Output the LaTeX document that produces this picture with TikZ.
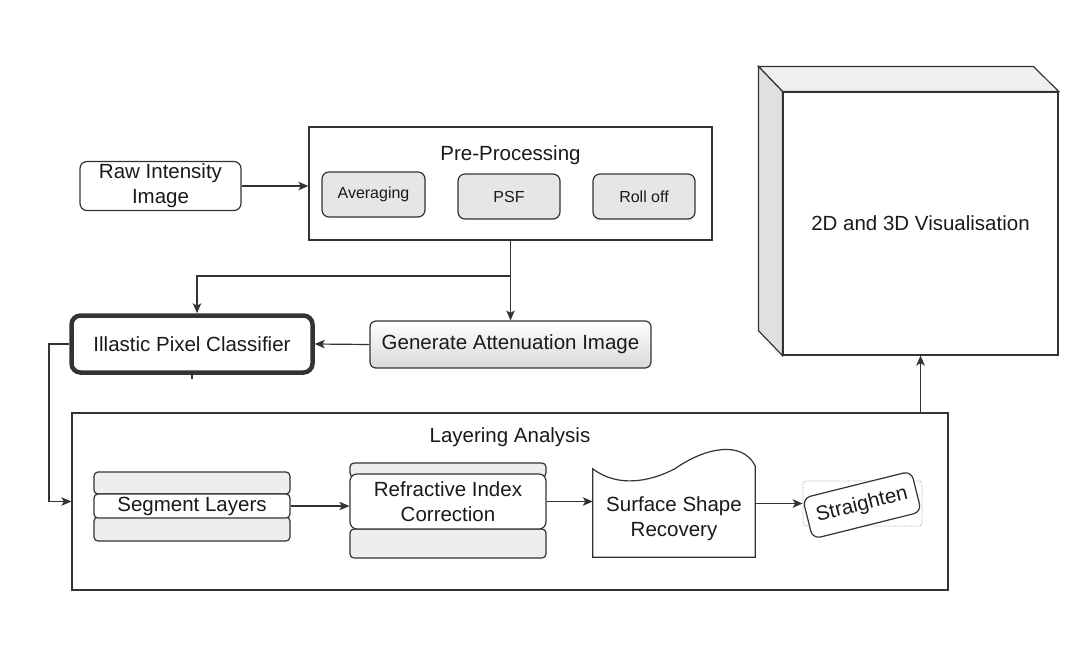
\documentclass[tikz,border=0pt]{standalone}
\usepackage{fontspec}
\setmainfont{Liberation Sans}
\usetikzlibrary{arrows.meta,calc}

\definecolor{edge}{HTML}{333333}
\definecolor{ink}{HTML}{1A1A1A}
\definecolor{panel}{HTML}{E6E6E6}
\definecolor{layer}{HTML}{EEEEEE}

\tikzset{
  lbl/.style={font=\fontsize{20.5}{25}\selectfont, text=ink, align=center, inner sep=0pt},
  small/.style={font=\fontsize{16}{19}\selectfont},
  box/.style={lbl, draw=edge, line width=1.2pt, rounded corners=7pt, fill=white},
  graybox/.style={box, fill=panel},
  layerbox/.style={box, fill=layer, rounded corners=4pt},
  frame/.style={lbl, draw=edge, line width=1.2pt, fill=white},
  link/.style={draw=edge, line width=1.2pt, -{Stealth[length=10pt,width=8.5pt,inset=2.5pt]}},
}

\begin{document}
\begin{tikzpicture}[x=1pt,y=-1pt]
\useasboundingbox (0,0) rectangle (1083,662);

% 3D visualisation block
\node[frame, minimum width=275pt, minimum height=263pt] (vis) at (920.5,223.5) {2D and 3D Visualisation};
\draw[draw=edge, line width=1.2pt, fill=black!6]
  (vis.north west) -- ++(-24,-25) -- ++(275,0) -- (vis.north east) -- cycle;
\draw[draw=edge, line width=1.2pt, fill=black!12]
  (vis.north west) -- ++(-24,-25) -- ($(vis.south west)+(-24,-25)$) -- (vis.south west) -- cycle;

% input and pre-processing
\node[box, minimum width=161pt, minimum height=49pt] (raw) at (160.5,186) {Raw Intensity\\Image};
\node[frame, minimum width=403pt, minimum height=113pt] (pre) at (510.5,183.5) {};
\node[lbl] (pretitle) at (510.5,155) {Pre-Processing};
\node[graybox, small, minimum width=103pt, minimum height=45pt] (avg) at (373.5,194.5) {Averaging};
\node[graybox, small, minimum width=102pt, minimum height=45pt] (psf) at (509,196.5) {PSF};
\node[graybox, small, minimum width=102pt, minimum height=45pt] (roll) at (644,196.5) {Roll off};

% classification
\node[box, line width=4.5pt, rounded corners=9pt, minimum width=241pt, minimum height=57pt] (ilas) at (192,344) {Illastic Pixel Classifier};
\node[box, top color=white, bottom color=black!15, rounded corners=6pt, minimum width=281pt, minimum height=47pt] (gen) at (510.5,344.5) {Generate Attenuation Image};

% layering analysis
\node[frame, minimum width=876pt, minimum height=177pt] (lay) at (510,501.5) {};
\node[lbl] (laytitle) at (510,437) {Layering Analysis};

\node[layerbox, minimum width=196pt, minimum height=22pt] (segtop) at (192,483) {};
\node[layerbox, minimum width=196pt, minimum height=24pt] (segbot) at (192,529) {};
\node[layerbox, fill=white, minimum width=196pt, minimum height=24pt] (segmid) at (192,506) {Segment Layers};

\node[layerbox, minimum width=196pt, minimum height=14pt] (reftop) at (448,470) {};
\node[layerbox, minimum width=196pt, minimum height=29pt] (refbot) at (448,543.5) {};
\node[box, minimum width=196pt, minimum height=55pt] (refmid) at (448,501.5) {Refractive Index\\Correction};

\node[lbl, minimum width=162pt, minimum height=76pt] (surf) at (674,519) {Surface Shape\\Recovery};
\draw[draw=edge, line width=1.2pt]
  (surf.south west) -- ($(surf.north west)+(0,-12)$)
  .. controls ($(surf.north west)+(25,7)$) and ($(surf.north west)+(57,1)$) .. ($(surf.north west)+(82,-12)$)
  .. controls ($(surf.north west)+(112,-33)$) and ($(surf.north west)+(149,-41)$) .. ($(surf.north east)+(0,-15)$)
  -- (surf.south east) -- cycle;

\node[draw=black!35, densely dotted, line width=0.8pt, rounded corners=3pt, minimum width=119pt, minimum height=45pt] (sghost) at (862.5,503.5) {};
\node[box, rotate=14, rounded corners=8pt, minimum width=112pt, minimum height=42pt] (str) at (862,505) {Straighten};

% connectors
\coordinate (j) at (510.5,276);
\coordinate (k) at (197,276);
\coordinate (c) at (49,344);
\draw[link] (raw.east) -- (raw.east -| pre.west);
\draw[link] (pre.south) -- (j) -- (k) -- (k |- ilas.north);
\draw[link] (j) -- (gen.north);
\draw[link] (gen.west) -- (ilas.east);
\draw[draw=edge, line width=1.2pt] (ilas.south) -- ++(0,4);
\draw[link] (ilas.west) -- (c) -- (c |- lay.west) -- (lay.west);
\draw[link] (segmid.east) -- (segmid.east -| refmid.west);
\draw[link] (refmid.east) -- (refmid.east -| surf.west);
\draw[link] (surf.east |- sghost.west) -- (sghost.west);
\draw[link] (lay.north -| vis.south) -- (vis.south);
\end{tikzpicture}
\end{document}
